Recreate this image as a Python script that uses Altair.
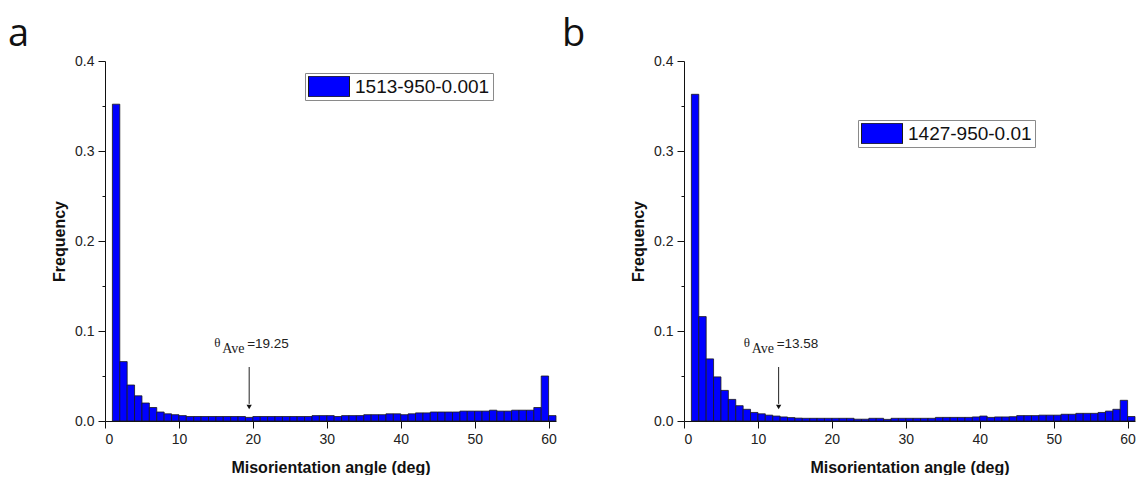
import altair as alt
import pandas as pd

# ---- data ----
bin_start = list(range(1, 61))  # 1-degree bins: [1,2), [2,3), ... [60,61)

freq_a = [0.352, 0.066, 0.040, 0.028, 0.020, 0.015, 0.010, 0.008, 0.007, 0.006,
          0.005, 0.005, 0.005, 0.005, 0.005, 0.005, 0.005, 0.005, 0.004, 0.005,
          0.005, 0.005, 0.005, 0.005, 0.005, 0.005, 0.005, 0.006, 0.006, 0.006,
          0.005, 0.006, 0.006, 0.006, 0.007, 0.007, 0.007, 0.008, 0.008, 0.007,
          0.008, 0.009, 0.009, 0.010, 0.010, 0.010, 0.010, 0.011, 0.011, 0.011,
          0.011, 0.012, 0.011, 0.011, 0.012, 0.012, 0.012, 0.015, 0.050, 0.006]

freq_b = [0.363, 0.116, 0.069, 0.049, 0.034, 0.024, 0.017, 0.013, 0.0095, 0.008,
          0.0065, 0.0055, 0.0045, 0.0038, 0.0032, 0.003, 0.003, 0.003, 0.003, 0.003,
          0.003, 0.003, 0.002, 0.002, 0.003, 0.003, 0.0018, 0.003, 0.003, 0.003,
          0.003, 0.003, 0.003, 0.004, 0.004, 0.004, 0.004, 0.004, 0.0045, 0.0055,
          0.004, 0.0045, 0.0045, 0.0048, 0.006, 0.006, 0.006, 0.0065, 0.0065, 0.0065,
          0.0075, 0.0075, 0.0085, 0.0085, 0.0085, 0.0095, 0.011, 0.013, 0.023, 0.005]

series_names = ["1513-950-0.001", "1427-950-0.01"]
panel_letters = ["a", "b"]
ave_labels = ["=19.25", "=13.58"]
arrow_x = [19.5, 12.8]          # where the arrows are drawn
text_y = 0.081
arrow_top = 0.060
arrow_bottom = 0.019
arrow_head = 0.0155

x_ticks = list(range(0, 61, 5))
y_ticks = [0.0, 0.05, 0.1, 0.15, 0.2, 0.25, 0.3, 0.35, 0.4]

BLUE = "#0000FF"
W, H = 451, 360


def panel(freqs, name, letter, letter_dx, ave_label, ax, legend_x, legend_y):
    df = pd.DataFrame({
        "start": bin_start,
        "end": [s + 1 for s in bin_start],
        "freq": freqs,
        "base": [0.0] * len(bin_start),
        "series": [name] * len(bin_start),
    })
    xscale = alt.Scale(domain=[0, 61], nice=False, zero=False)
    yscale = alt.Scale(domain=[0, 0.4], nice=False)
    xaxis = alt.Axis(
        values=x_ticks,
        labelExpr="datum.value % 10 === 0 ? datum.label : ''",
        tickSize=alt.condition("datum.value % 10 === 0", alt.value(7), alt.value(3)),
        title="Misorientation angle (deg)",
        grid=False,
    )
    yaxis = alt.Axis(
        values=y_ticks,
        labelExpr="round(datum.value*100) % 10 === 0 ? format(datum.value, '.1f') : ''",
        tickSize=alt.condition("round(datum.value*100) % 10 === 0", alt.value(7), alt.value(3)),
        title="Frequency",
        grid=False,
    )
    bars = alt.Chart(df).mark_rect(stroke="#1a1a1a", strokeWidth=0.8, opacity=1).encode(
        x=alt.X("start:Q", scale=xscale, axis=xaxis),
        x2="end:Q",
        y=alt.Y("freq:Q", scale=yscale, axis=yaxis),
        y2="base:Q",
        color=alt.Color(
            "series:N",
            scale=alt.Scale(domain=[name], range=[BLUE]),
            legend=alt.Legend(
                title=None, orient="none", legendX=legend_x, legendY=legend_y,
                symbolType="M-1,-0.5L1,-0.5L1,0.5L-1,0.5Z", symbolSize=1681,
                symbolStrokeColor="#1a1a1a", symbolStrokeWidth=1, symbolOpacity=1,
                clipHeight=21, labelFontSize=19, labelFont="Liberation Sans",
                labelColor="#111", labelOffset=5, padding=3,
                strokeColor="#8a8a8a", fillColor="white",
            ),
        ),
    )
    ann = pd.DataFrame({
        "x": [ax], "ty": [text_y], "top": [arrow_top], "bot": [arrow_bottom],
        "head": [arrow_head], "lab": [ave_label],
    })
    base = alt.Chart(ann)
    theta = base.mark_text(text="θ", align="left", baseline="alphabetic", dx=-35, dy=-1,
                           fontSize=13, font="Liberation Serif", color="#222").encode(
        x=alt.X("x:Q", scale=xscale), y=alt.Y("ty:Q", scale=yscale))
    sub = base.mark_text(text="Ave", align="left", baseline="alphabetic", dx=-27, dy=5,
                         fontSize=14, font="Liberation Serif", color="#222").encode(
        x=alt.X("x:Q", scale=xscale), y=alt.Y("ty:Q", scale=yscale))
    val = base.mark_text(align="left", baseline="alphabetic", dx=-2, dy=0,
                         fontSize=13.5, font="Liberation Sans", color="#222").encode(
        x=alt.X("x:Q", scale=xscale), y=alt.Y("ty:Q", scale=yscale), text="lab:N")
    line = base.mark_rule(color="#222", strokeWidth=1).encode(
        x=alt.X("x:Q", scale=xscale), y=alt.Y("top:Q", scale=yscale), y2="bot:Q")
    head = base.mark_point(shape="triangle-down", filled=True, size=28, color="#111",
                           opacity=1).encode(
        x=alt.X("x:Q", scale=xscale), y=alt.Y("head:Q", scale=yscale))
    return alt.layer(bars, line, head, theta, sub, val).properties(
        width=W, height=H,
        title=alt.TitleParams(letter, anchor="start", frame="group", fontSize=38,
                              font="Open Sans", fontWeight="normal", color="#111",
                              dx=letter_dx, offset=0),
    )


pa = panel(freq_a, series_names[0], panel_letters[0], -97, ave_labels[0], arrow_x[0], 200, 12)
pb = panel(freq_b, series_names[1], panel_letters[1], -122, ave_labels[1], arrow_x[1], 174, 59)

chart = alt.hconcat(pa, pb, spacing=5).resolve_scale(color="independent").resolve_legend(
    color="independent"
).properties(padding={"left": 8, "top": 16, "right": 0, "bottom": 0}).configure_view(
    stroke=None
).configure_axis(
    domainColor="#111", domainWidth=1, tickColor="#111", tickWidth=1,
    labelFont="Liberation Sans", labelFontSize=14, labelColor="#222", labelPadding=4,
    titleFont="Liberation Sans", titleFontSize=16, titleFontWeight="bold", titleColor="#111",
).configure_axisX(titlePadding=13).configure_axisY(titlePadding=7)

chart.save("out.html", embed_options={"renderer": "svg", "actions": False})
